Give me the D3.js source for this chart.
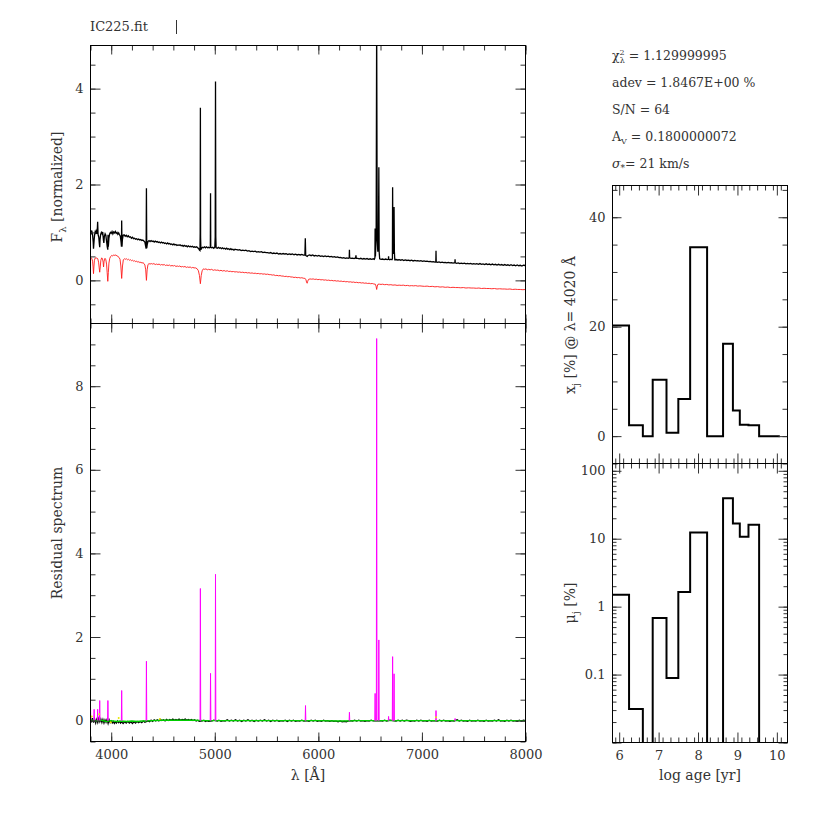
<!DOCTYPE html>
<html><head><meta charset="utf-8">
<script src="https://cdn.jsdelivr.net/npm/d3@7"></script>
<style>
body{margin:0;background:#fff}
text{font-family:"DejaVu Serif",serif;fill:#333}
</style>
</head><body>
<svg id="c" width="830" height="830"></svg>
<script>
// ---------------- DATA ----------------
const titleText = "IC225.fit";
const lamTicks = [4000, 5000, 6000, 7000, 8000];
const fluxTicks = [0, 2, 4];
const residTicks = [0, 2, 4, 6, 8];
const ageTicks = [6, 7, 8, 9, 10];
const xjTicks = [0, 20, 40];
const muTicks = [0.1, 1, 10, 100];
const infoLines = ["chi", "adev = 1.8467E+00 %", "S/N = 64", "Av", "sigma"];
const chi2 = "1.129999995", avVal = "0.1800000072", sigVal = "21 km/s";

// observed spectrum (black, top panel) [lambda, flux]
const obsSpec = [[3800,1.03],[3806,0.99],[3812,1.04],[3820,0.95],[3826,0.80],[3829,0.66],[3835,0.84],[3840,0.96],[3846,1.02],[3852,0.99],[3858,1.03],[3864,0.97],[3869,1.22],[3873,0.96],[3880,0.90],[3886,0.75],[3889,0.69],[3892,0.85],[3898,0.96],[3905,1.00],[3912,0.97],[3918,1.01],[3925,0.84],[3929,0.78],[3934,0.92],[3941,0.97],[3948,0.94],[3955,0.82],[3962,0.70],[3967,0.64],[3969,0.95],[3972,0.70],[3978,0.88],[3985,0.97],[3992,1.00],[4000,0.98],[4008,1.02],[4016,0.97],[4024,1.01],[4032,0.99],[4040,1.02],[4048,0.98],[4056,1.00],[4064,0.96],[4072,0.99],[4080,0.95],[4088,0.92],[4095,0.80],[4099,0.70],[4101,1.25],[4104,0.70],[4108,0.85],[4115,0.94],[4125,0.95],[4135,0.92],[4145,0.94],[4155,0.91],[4165,0.93],[4175,0.90],[4185,0.91],[4195,0.88],[4205,0.90],[4215,0.87],[4225,0.88],[4235,0.86],[4245,0.87],[4255,0.85],[4265,0.86],[4275,0.84],[4285,0.85],[4295,0.83],[4305,0.84],[4315,0.82],[4325,0.80],[4332,0.72],[4337,0.66],[4340,1.92],[4343,0.67],[4348,0.75],[4355,0.81],[4365,0.83],[4375,0.81],[4385,0.83],[4395,0.81],[4405,0.82],[4415,0.80],[4425,0.82],[4435,0.80],[4445,0.81],[4455,0.79],[4465,0.80],[4475,0.78],[4485,0.80],[4495,0.78],[4505,0.79],[4515,0.77],[4525,0.78],[4535,0.76],[4545,0.78],[4555,0.76],[4565,0.77],[4575,0.75],[4585,0.76],[4595,0.74],[4605,0.76],[4615,0.74],[4625,0.75],[4635,0.73],[4645,0.74],[4655,0.73],[4665,0.74],[4675,0.72],[4685,0.73],[4695,0.71],[4705,0.73],[4715,0.71],[4725,0.72],[4735,0.70],[4745,0.72],[4755,0.70],[4765,0.71],[4775,0.70],[4785,0.71],[4795,0.69],[4805,0.70],[4815,0.69],[4825,0.70],[4835,0.68],[4845,0.66],[4852,0.63],[4857,0.62],[4859,1.0],[4861,3.6],[4863,0.9],[4866,0.64],[4872,0.67],[4880,0.69],[4890,0.68],[4900,0.70],[4910,0.68],[4920,0.70],[4930,0.68],[4940,0.69],[4950,0.68],[4957,0.69],[4959,1.82],[4961,0.69],[4970,0.68],[4980,0.69],[4990,0.67],[5000,0.69],[5004,0.9],[5007,4.15],[5010,0.9],[5013,0.68],[5025,0.67],[5035,0.69],[5045,0.67],[5055,0.68],[5065,0.66],[5075,0.68],[5085,0.66],[5095,0.67],[5105,0.65],[5115,0.67],[5125,0.65],[5135,0.66],[5145,0.64],[5155,0.66],[5165,0.64],[5175,0.65],[5185,0.63],[5195,0.65],[5205,0.64],[5215,0.64],[5225,0.63],[5240,0.64],[5255,0.62],[5270,0.63],[5285,0.62],[5300,0.63],[5315,0.61],[5330,0.62],[5345,0.60],[5360,0.61],[5375,0.60],[5390,0.61],[5405,0.59],[5420,0.60],[5435,0.59],[5450,0.60],[5465,0.58],[5480,0.59],[5495,0.58],[5510,0.58],[5525,0.57],[5540,0.58],[5555,0.56],[5570,0.57],[5585,0.56],[5600,0.57],[5615,0.55],[5630,0.56],[5645,0.55],[5660,0.56],[5675,0.55],[5690,0.555],[5705,0.54],[5720,0.55],[5735,0.54],[5750,0.55],[5765,0.535],[5780,0.545],[5795,0.53],[5810,0.54],[5825,0.53],[5840,0.54],[5855,0.525],[5870,0.53],[5874,0.88],[5878,0.52],[5885,0.51],[5893,0.50],[5900,0.52],[5915,0.53],[5930,0.515],[5945,0.53],[5960,0.51],[5975,0.52],[5990,0.505],[6005,0.52],[6020,0.50],[6035,0.51],[6050,0.495],[6065,0.51],[6080,0.495],[6095,0.505],[6110,0.49],[6125,0.50],[6140,0.485],[6155,0.495],[6170,0.48],[6185,0.49],[6200,0.475],[6215,0.48],[6230,0.465],[6245,0.475],[6260,0.46],[6275,0.47],[6290,0.46],[6298,0.47],[6300,0.64],[6302,0.47],[6315,0.46],[6330,0.465],[6345,0.455],[6360,0.47],[6363,0.52],[6366,0.46],[6380,0.46],[6395,0.45],[6410,0.46],[6425,0.445],[6440,0.455],[6455,0.445],[6470,0.455],[6485,0.44],[6500,0.45],[6515,0.44],[6530,0.45],[6540,0.44],[6546,0.47],[6548,1.08],[6551,0.5],[6558,0.9],[6563,5.5],[6568,0.9],[6574,0.6],[6580,0.8],[6584,2.36],[6587,0.6],[6592,0.45],[6605,0.44],[6620,0.445],[6635,0.435],[6650,0.445],[6665,0.435],[6676,0.44],[6678,0.50],[6680,0.44],[6690,0.43],[6700,0.44],[6710,0.43],[6715,0.45],[6717,1.94],[6720,0.6],[6724,0.55],[6728,0.7],[6731,1.53],[6734,0.6],[6738,0.43],[6750,0.435],[6765,0.425],[6780,0.43],[6795,0.42],[6810,0.43],[6825,0.415],[6840,0.425],[6855,0.415],[6870,0.42],[6885,0.41],[6900,0.42],[6915,0.405],[6930,0.415],[6945,0.405],[6960,0.41],[6975,0.40],[6990,0.41],[7005,0.395],[7020,0.405],[7035,0.395],[7050,0.40],[7065,0.39],[7080,0.395],[7095,0.385],[7110,0.39],[7125,0.38],[7134,0.385],[7136,0.62],[7138,0.385],[7150,0.375],[7165,0.385],[7180,0.37],[7195,0.38],[7210,0.37],[7225,0.375],[7240,0.365],[7255,0.375],[7270,0.365],[7285,0.37],[7300,0.36],[7318,0.37],[7320,0.44],[7322,0.365],[7335,0.355],[7350,0.365],[7365,0.35],[7380,0.36],[7395,0.35],[7410,0.36],[7425,0.345],[7440,0.355],[7455,0.345],[7470,0.355],[7485,0.34],[7500,0.35],[7515,0.34],[7530,0.35],[7545,0.335],[7560,0.35],[7575,0.335],[7590,0.345],[7605,0.33],[7620,0.345],[7635,0.33],[7650,0.34],[7665,0.325],[7680,0.34],[7695,0.325],[7710,0.335],[7725,0.32],[7740,0.335],[7755,0.32],[7770,0.33],[7785,0.315],[7800,0.33],[7815,0.315],[7830,0.325],[7845,0.31],[7860,0.325],[7875,0.31],[7890,0.32],[7905,0.305],[7920,0.32],[7935,0.305],[7950,0.315],[7965,0.30],[7980,0.315],[8000,0.31]];

// synthetic (model) spectrum, red, shifted down
const modelSpec = [[3800,0.45],[3806,0.47],[3812,0.46],[3820,0.40],[3825,0.28],[3829,0.14],[3833,0.28],[3838,0.42],[3846,0.47],[3854,0.46],[3862,0.47],[3870,0.45],[3878,0.38],[3884,0.26],[3889,0.17],[3894,0.28],[3900,0.42],[3908,0.47],[3916,0.45],[3922,0.38],[3926,0.28],[3931,0.40],[3940,0.46],[3948,0.43],[3955,0.34],[3961,0.16],[3967,-0.02],[3972,0.16],[3978,0.36],[3986,0.46],[3995,0.50],[4005,0.52],[4015,0.51],[4025,0.53],[4035,0.52],[4045,0.53],[4055,0.51],[4065,0.50],[4075,0.48],[4085,0.44],[4093,0.30],[4101,0.04],[4109,0.30],[4117,0.43],[4127,0.45],[4137,0.44],[4147,0.45],[4157,0.43],[4167,0.44],[4177,0.42],[4187,0.43],[4197,0.41],[4207,0.42],[4217,0.40],[4227,0.41],[4237,0.39],[4247,0.40],[4257,0.38],[4267,0.39],[4277,0.37],[4287,0.38],[4297,0.36],[4307,0.37],[4317,0.35],[4325,0.32],[4333,0.22],[4340,0.00],[4347,0.22],[4355,0.33],[4365,0.35],[4375,0.34],[4387,0.35],[4400,0.34],[4412,0.35],[4425,0.33],[4437,0.34],[4450,0.33],[4462,0.34],[4475,0.32],[4487,0.33],[4500,0.32],[4512,0.33],[4525,0.31],[4537,0.32],[4550,0.31],[4562,0.32],[4575,0.30],[4587,0.31],[4600,0.30],[4612,0.31],[4625,0.29],[4637,0.30],[4650,0.29],[4662,0.30],[4675,0.28],[4687,0.29],[4700,0.28],[4712,0.29],[4725,0.27],[4737,0.28],[4750,0.27],[4762,0.28],[4775,0.26],[4787,0.27],[4800,0.26],[4815,0.26],[4830,0.24],[4842,0.20],[4852,0.10],[4861,-0.07],[4869,0.10],[4878,0.20],[4890,0.24],[4902,0.23],[4915,0.24],[4927,0.22],[4940,0.23],[4955,0.22],[4970,0.23],[4985,0.21],[5000,0.22],[5015,0.21],[5030,0.215],[5045,0.20],[5060,0.21],[5075,0.195],[5090,0.205],[5105,0.19],[5120,0.20],[5135,0.185],[5150,0.19],[5165,0.18],[5180,0.185],[5195,0.175],[5210,0.18],[5225,0.17],[5240,0.175],[5255,0.165],[5270,0.17],[5285,0.16],[5300,0.165],[5315,0.155],[5330,0.16],[5345,0.15],[5360,0.155],[5375,0.145],[5390,0.15],[5405,0.14],[5420,0.145],[5435,0.135],[5450,0.14],[5465,0.13],[5480,0.135],[5495,0.125],[5510,0.13],[5525,0.12],[5540,0.12],[5555,0.11],[5570,0.115],[5585,0.10],[5600,0.105],[5615,0.095],[5630,0.10],[5645,0.09],[5660,0.09],[5675,0.08],[5690,0.085],[5705,0.075],[5720,0.08],[5735,0.07],[5750,0.07],[5765,0.06],[5780,0.065],[5795,0.055],[5810,0.06],[5825,0.05],[5840,0.055],[5855,0.045],[5870,0.04],[5880,0.02],[5886,-0.04],[5892,-0.06],[5897,-0.02],[5905,0.02],[5920,0.03],[5935,0.025],[5950,0.03],[5965,0.02],[5980,0.025],[5995,0.015],[6010,0.02],[6025,0.01],[6040,0.015],[6055,0.005],[6070,0.01],[6085,0.0],[6100,0.005],[6115,-0.005],[6130,0.0],[6145,-0.01],[6160,-0.005],[6175,-0.015],[6190,-0.01],[6205,-0.02],[6220,-0.015],[6235,-0.025],[6250,-0.02],[6265,-0.03],[6280,-0.025],[6295,-0.035],[6310,-0.03],[6325,-0.04],[6340,-0.035],[6355,-0.045],[6370,-0.04],[6385,-0.05],[6400,-0.045],[6415,-0.055],[6430,-0.05],[6445,-0.06],[6460,-0.055],[6475,-0.065],[6490,-0.06],[6505,-0.07],[6520,-0.065],[6535,-0.075],[6550,-0.08],[6557,-0.12],[6563,-0.19],[6569,-0.12],[6576,-0.08],[6590,-0.08],[6605,-0.085],[6620,-0.08],[6640,-0.09],[6660,-0.085],[6680,-0.095],[6700,-0.09],[6720,-0.10],[6740,-0.095],[6760,-0.105],[6780,-0.10],[6800,-0.105],[6820,-0.10],[6840,-0.11],[6860,-0.105],[6880,-0.115],[6900,-0.11],[6920,-0.115],[6940,-0.11],[6960,-0.12],[6980,-0.115],[7000,-0.12],[7025,-0.125],[7050,-0.12],[7075,-0.13],[7100,-0.125],[7125,-0.135],[7150,-0.13],[7175,-0.14],[7200,-0.135],[7225,-0.145],[7250,-0.14],[7275,-0.15],[7300,-0.145],[7325,-0.15],[7350,-0.15],[7375,-0.155],[7400,-0.15],[7425,-0.16],[7450,-0.155],[7475,-0.16],[7500,-0.16],[7525,-0.165],[7550,-0.16],[7575,-0.17],[7600,-0.165],[7625,-0.17],[7650,-0.17],[7675,-0.175],[7700,-0.17],[7725,-0.18],[7750,-0.175],[7775,-0.18],[7800,-0.18],[7825,-0.185],[7850,-0.18],[7875,-0.19],[7900,-0.185],[7925,-0.19],[7950,-0.19],[7975,-0.195],[8000,-0.19]];

// residual spectrum (black) [lambda, residual]
const residSpec = [[3800,0.08],[3810,-0.04],[3820,0.06],[3830,-0.05],[3840,0.04],[3850,-0.06],[3860,0.03],[3870,-0.05],[3880,0.05],[3890,-0.03],[3900,0.04],[3910,-0.05],[3920,0.03],[3930,-0.06],[3940,0.02],[3950,-0.04],[3960,0.03],[3970,-0.07],[3980,0.02],[3990,-0.05],[4000,-0.01],[4010,-0.06],[4020,-0.02],[4030,-0.07],[4040,-0.03],[4050,-0.06],[4060,-0.01],[4070,-0.05],[4080,-0.02],[4090,-0.06],[4100,-0.03],[4115,-0.07],[4130,-0.03],[4145,-0.06],[4160,-0.02],[4175,-0.06],[4190,-0.03],[4205,-0.07],[4220,-0.03],[4235,-0.06],[4250,-0.02],[4265,-0.05],[4280,-0.02],[4295,-0.05],[4310,-0.01],[4325,-0.04],[4355,-0.01],[4370,-0.03],[4385,0.01],[4400,-0.02],[4415,0.02],[4430,-0.01],[4445,0.02],[4460,-0.01],[4475,0.03],[4490,0.0],[4505,0.02],[4520,-0.01],[4535,0.03],[4550,0.0],[4565,0.03],[4580,0.01],[4595,0.04],[4610,0.01],[4625,0.03],[4640,0.01],[4655,0.04],[4670,0.01],[4685,0.03],[4700,0.02],[4715,0.04],[4730,0.01],[4745,0.03],[4760,0.01],[4775,0.03],[4790,0.0],[4805,0.02],[4820,-0.01],[4835,0.01],[4850,-0.02],[4880,-0.01],[4895,0.01],[4910,-0.02],[4925,0.0],[4940,-0.02],[4975,-0.01],[4990,0.01],[5025,-0.01],[5040,0.01],[5060,-0.02],[5080,0.0],[5100,-0.01],[5120,0.02],[5140,-0.01],[5160,0.01],[5180,-0.01],[5200,0.02],[5220,-0.01],[5240,0.01],[5260,-0.02],[5280,0.01],[5300,-0.01],[5320,0.02],[5340,-0.01],[5360,0.01],[5380,-0.02],[5400,0.01],[5420,-0.01],[5440,0.01],[5460,-0.01],[5480,0.02],[5500,-0.01],[5520,0.01],[5540,-0.02],[5560,0.01],[5580,-0.01],[5600,0.01],[5620,-0.02],[5640,0.0],[5660,-0.01],[5680,0.01],[5700,-0.02],[5720,0.01],[5740,-0.01],[5760,0.01],[5780,-0.02],[5800,0.0],[5820,-0.01],[5840,0.01],[5860,-0.01],[5890,0.0],[5910,-0.02],[5930,0.01],[5950,-0.01],[5970,0.01],[5990,-0.02],[6010,0.0],[6030,-0.02],[6050,0.01],[6070,-0.01],[6090,0.0],[6110,-0.02],[6130,0.0],[6150,-0.02],[6170,-0.01],[6190,-0.03],[6210,-0.01],[6230,-0.03],[6250,-0.02],[6270,-0.03],[6290,-0.01],[6310,0.0],[6330,-0.01],[6350,0.01],[6370,-0.01],[6390,0.01],[6410,-0.01],[6430,0.0],[6450,-0.02],[6470,0.0],[6490,-0.01],[6510,0.01],[6530,-0.01],[6600,0.0],[6620,-0.01],[6640,0.01],[6660,-0.01],[6690,0.01],[6750,-0.01],[6770,0.01],[6790,-0.01],[6810,0.01],[6830,-0.01],[6850,0.01],[6870,0.0],[6890,-0.02],[6910,0.0],[6930,-0.01],[6950,0.01],[6970,-0.01],[6990,0.01],[7010,-0.01],[7030,0.0],[7050,-0.02],[7070,0.01],[7090,-0.01],[7110,0.0],[7150,-0.01],[7170,0.01],[7190,-0.01],[7210,0.01],[7230,-0.01],[7250,0.0],[7270,-0.02],[7290,0.0],[7310,-0.01],[7340,0.02],[7360,-0.01],[7380,0.01],[7400,-0.01],[7420,0.0],[7440,-0.02],[7460,0.01],[7480,-0.01],[7500,0.0],[7520,-0.01],[7540,0.01],[7560,-0.01],[7580,0.0],[7600,-0.02],[7620,0.01],[7640,-0.01],[7660,0.0],[7680,-0.01],[7700,0.01],[7720,-0.01],[7740,0.02],[7760,-0.01],[7780,0.0],[7800,-0.02],[7820,0.01],[7840,-0.01],[7860,0.01],[7880,-0.01],[7900,0.0],[7920,-0.02],[7940,0.01],[7960,-0.01],[7980,0.01],[8000,0.0]];

// fitted-residual trace (green)
const residGreen = [[3800,0.02],[3850,-0.01],[3900,0.01],[3950,-0.02],[4000,0.0],[4050,-0.02],[4100,-0.01],[4150,-0.02],[4200,-0.01],[4250,-0.02],[4300,-0.01],[4400,0.0],[4500,0.01],[4600,0.01],[4700,0.01],[4800,0.01],[4900,0.0],[5000,0.0],[5200,0.0],[5400,0.0],[5600,0.0],[5800,0.0],[6000,0.0],[6200,-0.01],[6400,0.0],[6600,0.0],[6800,0.0],[7000,0.0],[7200,0.0],[7400,0.0],[7600,0.0],[7800,0.0],[8000,0.0]];

// masked emission lines in residual (magenta) [lambda, peak]
const emLines = [[3800,0.34],[3835,0.27],[3869,0.27],[3889,0.48],[3968,0.48],[4101,0.72],[4340,1.42],[4861,3.16],[4959,1.13],[5007,3.5],[5876,0.36],[6300,0.2],[6548,0.65],[6563,9.14],[6584,1.93],[6678,0.1],[6717,1.53],[6731,1.12],[7136,0.24],[7320,0.05]];
// clipped points (yellow)
const clippedPts = [[3812,0.10],[3884,0.15],[3996,-0.04],[4072,0.06],[4470,0.04],[7136,0.08]];

// population synthesis results
const logAge = [6.0, 6.5, 6.7, 7.0, 7.4, 7.6, 8.0, 8.46, 8.81, 8.96, 9.16, 9.4, 9.7, 10.04, 10.11];
const xj  = [20.2, 2.0, 0, 10.3, 0.6, 6.8, 34.5, 0, 16.9, 4.7, 2.1, 2.0, 0, 0];
const muj = [1.5, 0.031, 0, 0.68, 0.089, 1.64, 12.3, 0, 39.5, 16.8, 10.7, 16.1, 0, 0];

// ---------------- LAYOUT ----------------
const svg = d3.select("#c");
const LX0 = 90.5, LX1 = 525.5, TY0 = 45.5, TY1 = 323.5, BY1 = 741.5;
const RX0 = 612.5, RX1 = 787.5, RY0 = 185.5, RY1 = 463.5, RY2 = 742.5;

const xLam = d3.scaleLinear([3800, 8000], [LX0, LX1]);
const yTop = d3.scaleLinear([-0.9, 4.9], [TY1, TY0]);
const yRes = d3.scaleLinear([-0.5, 9.5], [BY1, TY1]);
const xAge = d3.scaleLinear([5.83, 10.27], [RX0, RX1]);
const yXj = d3.scaleLinear([-5, 45.8], [RY1, RY0]);
const yMu = d3.scaleLog([0.01, 128], [RY2, RY1]);

const defs = svg.append("defs");
function clip(id, x0, y0, x1, y1) {
  defs.append("clipPath").attr("id", id).append("rect")
    .attr("x", x0).attr("y", y0).attr("width", x1 - x0).attr("height", y1 - y0);
  return `url(#${id})`;
}

function ticks(g, scale, orient, pos, values, len) {
  const ax = orient === "bottom" ? d3.axisBottom(scale) : orient === "top" ? d3.axisTop(scale)
    : orient === "left" ? d3.axisLeft(scale) : d3.axisRight(scale);
  ax.tickValues(values).tickSize(-len).tickFormat("");
  const tr = (orient === "bottom" || orient === "top") ? `translate(0,${pos})` : `translate(${pos},0)`;
  const a = g.append("g").attr("transform", tr).call(ax);
  a.select(".domain").remove();
  a.selectAll("line").attr("stroke", "#333").attr("stroke-width", 1);
}
function labels(g, scale, orient, pos, values, fmt) {
  const ax = orient === "bottom" ? d3.axisBottom(scale) : d3.axisLeft(scale);
  ax.tickValues(values).tickSize(0).tickPadding(orient === "bottom" ? 8 : 7).tickFormat(fmt || d3.format("d"));
  const tr = orient === "bottom" ? `translate(0,${pos})` : `translate(${pos},0)`;
  const a = g.append("g").attr("transform", tr).call(ax);
  a.select(".domain").remove();
  a.selectAll("text").style("font-family", '"DejaVu Serif",serif').style("font-size", "13px").attr("fill", "#333");
}
function box(x0, y0, x1, y1) {
  svg.append("rect").attr("x", x0).attr("y", y0).attr("width", x1 - x0).attr("height", y1 - y0)
    .attr("fill", "none").attr("stroke", "#000").attr("stroke-width", 1);
}
function frame(xs, ys, x0, x1, y0, y1, xMaj, xMin, yMaj, yMin, lx, ly) {
  const g = svg.append("g");
  ticks(g, xs, "bottom", y1, xMin, lx[1]); ticks(g, xs, "bottom", y1, xMaj, lx[0]);
  ticks(g, xs, "top", y0, xMin, lx[1]);    ticks(g, xs, "top", y0, xMaj, lx[0]);
  ticks(g, ys, "left", x0, yMin, ly[1]);   ticks(g, ys, "left", x0, yMaj, ly[0]);
  ticks(g, ys, "right", x1, yMin, ly[1]);  ticks(g, ys, "right", x1, yMaj, ly[0]);
  box(x0, y0, x1, y1);
  return g;
}
const lamMinor = d3.range(3800, 8001, 200);
const ageMinor = d3.range(5.9, 10.3, 0.2).map(v => +v.toFixed(1)).filter(v => v >= 5.83 && v <= 10.27);
const ageMajor = ageTicks;

// ---------------- TOP-LEFT: spectra ----------------
const line = (xs, ys) => d3.line().x(d => xs(d[0])).y(d => ys(d[1]));
const cTop = clip("ct", LX0, TY0, LX1, TY1);
svg.append("path").datum(modelSpec).attr("clip-path", cTop).attr("fill", "none")
  .attr("stroke", "#ff1a1a").attr("stroke-width", 0.9).attr("d", line(xLam, yTop));
svg.append("path").datum(obsSpec).attr("clip-path", cTop).attr("fill", "none")
  .attr("stroke", "#000").attr("stroke-width", 1.3).attr("d", line(xLam, yTop));
frame(xLam, yTop, LX0, LX1, TY0, TY1, lamTicks, lamMinor,
  [0, 2, 4], d3.range(-0.5, 4.9, 0.5), [9, 5], [10, 5]);
labels(svg, yTop, "left", LX0, fluxTicks);

// ---------------- BOTTOM-LEFT: residuals ----------------
const cRes = clip("cr", LX0, TY1, LX1, BY1);
const gRes = svg.append("g").attr("clip-path", cRes);
gRes.append("path").datum(residSpec).attr("fill", "none").attr("stroke", "#000").attr("stroke-width", 1.2)
  .attr("d", line(xLam, yRes));
gRes.append("path").datum(residGreen).attr("fill", "none").attr("stroke", "#00cc00").attr("stroke-width", 1.4)
  .attr("d", line(xLam, yRes));
gRes.selectAll("path.em").data(emLines).join("path").attr("class", "em")
  .attr("fill", "none").attr("stroke", "#ff00ff").attr("stroke-width", 1)
  .attr("d", d => line(xLam, yRes)([[d[0] - 3, 0], [d[0], d[1]], [d[0] + 3, 0]]));
gRes.selectAll("circle").data(clippedPts).join("circle")
  .attr("cx", d => xLam(d[0])).attr("cy", d => yRes(d[1])).attr("r", 1).attr("fill", "#e8e800");
frame(xLam, yRes, LX0, LX1, TY1, BY1, lamTicks, lamMinor,
  residTicks, d3.range(-0.5, 9.5, 0.5), [9, 5], [10, 5]);
labels(svg, yRes, "left", LX0, residTicks);
labels(svg, xLam, "bottom", BY1, lamTicks);

// ---------------- RIGHT: histograms ----------------
function stepPoints(vals, floor) {
  const pts = [];
  vals.forEach((v, i) => {
    const left = i === 0 ? logAge[0] - (logAge[1] - logAge[0]) / 2 : (logAge[i - 1] + logAge[i]) / 2;
    const right = (logAge[i] + logAge[i + 1]) / 2;
    const vv = floor !== undefined ? Math.max(v, floor) : v;
    pts.push([left, vv], [right, vv]);
  });
  return pts;
}
const cXj = clip("cx", RX0, RY0, RX1, RY1);
svg.append("path").datum(stepPoints(xj)).attr("clip-path", cXj).attr("fill", "none")
  .attr("stroke", "#000").attr("stroke-width", 2).attr("d", line(xAge, yXj));
frame(xAge, yXj, RX0, RX1, RY0, RY1, ageMajor, ageMinor, xjTicks, d3.range(-5, 46, 5), [10, 5], [9, 5]);
labels(svg, yXj, "left", RX0, xjTicks);

const cMu = clip("cm", RX0, RY1, RX1, RY2);
svg.append("path").datum(stepPoints(muj, 1e-4)).attr("clip-path", cMu).attr("fill", "none")
  .attr("stroke", "#000").attr("stroke-width", 2).attr("d", line(xAge, yMu));
const muMinor = [];
[-2, -1, 0, 1, 2].forEach(d => { for (let m = 1; m <= 9; m++) { const v = m * Math.pow(10, d); if (v >= 0.01 && v <= 128) muMinor.push(v); } });
frame(xAge, yMu, RX0, RX1, RY1, RY2, ageMajor, ageMinor, [0.01, 0.1, 1, 10, 100], muMinor, [10, 5], [9, 4]);
labels(svg, yMu, "left", RX0, muTicks, d => d < 1 ? String(d) : d3.format("d")(d));
labels(svg, xAge, "bottom", RY2, ageTicks);

// ---------------- TEXTS ----------------
const T = (x, y, s, size, rot) => {
  const t = svg.append("text").attr("x", x).attr("y", y).style("font-size", (size || 14) + "px");
  if (rot) t.attr("transform", `rotate(-90,${x},${y})`).attr("text-anchor", "middle");
  if (s !== null) t.text(s);
  return t;
};
T(90, 31, titleText, 13);
svg.append("line").attr("x1", 176.5).attr("x2", 176.5).attr("y1", 20).attr("y2", 34)
  .attr("stroke", "#333").attr("stroke-width", 1);

// y-axis titles
let t = T(62, 187, null, 14, true);
t.append("tspan").text("F");
t.append("tspan").attr("dy", 4).style("font-size", "10px").text("λ");
t.append("tspan").attr("dy", -4).text(" [normalized]");
T(62, 533, "Residual spectrum", 14, true);
t = T(575, 325, null, 14, true);
t.append("tspan").text("x");
t.append("tspan").attr("dy", 4).style("font-size", "10px").text("j");
t.append("tspan").attr("dy", -4).text(" [%] @ λ= 4020 Å");
t = T(575, 603, null, 14, true);
t.append("tspan").text("μ");
t.append("tspan").attr("dy", 4).style("font-size", "10px").text("j");
t.append("tspan").attr("dy", -4).text(" [%]");
// x-axis titles
T(308, 780, "λ [Å]", 14).attr("text-anchor", "middle");
T(700, 780, "log age [yr]", 14).attr("text-anchor", "middle");

// info block
const ix = 612, iy = [60, 87, 114, 141, 168];
t = T(ix, iy[0], null, 12.5);
t.append("tspan").text("χ");
t.append("tspan").attr("dy", -5).style("font-size", "8px").text("2");
t.append("tspan").attr("dx", -5).attr("dy", 8).style("font-size", "8px").text("λ");
t.append("tspan").attr("dy", -3).text(" = " + chi2);
T(ix, iy[1], infoLines[1], 12.5);
T(ix, iy[2], infoLines[2], 12.5);
t = T(ix, iy[3], null, 12.5);
t.append("tspan").text("A");
t.append("tspan").attr("dy", 3).style("font-size", "8px").text("V");
t.append("tspan").attr("dy", -3).text(" = " + avVal);
t = T(ix, iy[4], null, 12.5);
t.append("tspan").style("font-style", "italic").text("σ");
t.append("tspan").attr("dy", 3).style("font-size", "9px").text("*");
t.append("tspan").attr("dy", -3).text("= " + sigVal);
</script>
</body></html>
